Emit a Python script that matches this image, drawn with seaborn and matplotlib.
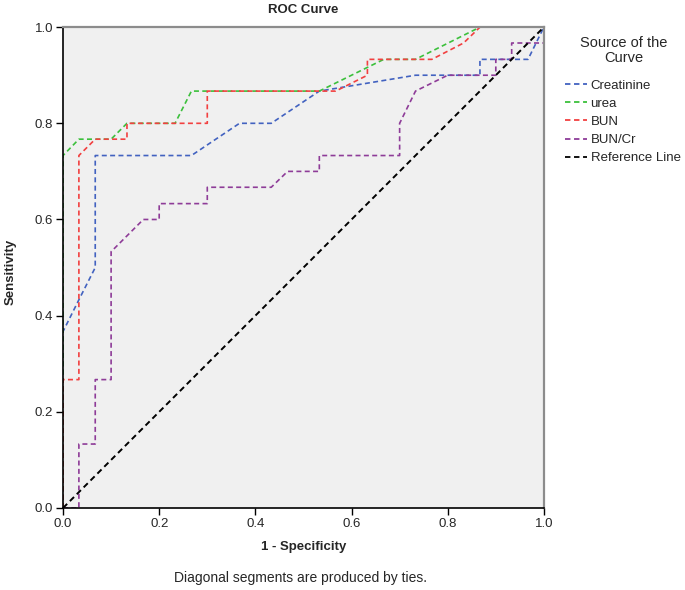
import numpy as np
import pandas as pd
import matplotlib
matplotlib.use("Agg")
import matplotlib.pyplot as plt
from matplotlib.lines import Line2D
import seaborn as sns

# ROC curve coordinates (1 - specificity, sensitivity)
creat_x = [0.0, 0.0, 0.033, 0.067, 0.067, 0.267, 0.367, 0.433, 0.533, 0.733, 0.867, 0.867, 0.967, 1.0]
creat_y = [0.0, 0.367, 0.433, 0.5, 0.733, 0.733, 0.8, 0.8, 0.867, 0.9, 0.9, 0.933, 0.933, 1.0]

urea_x = [0.0, 0.0, 0.033, 0.1, 0.133, 0.233, 0.267, 0.533, 0.667, 0.733, 0.867, 1.0]
urea_y = [0.0, 0.733, 0.767, 0.767, 0.8, 0.8, 0.867, 0.867, 0.933, 0.933, 1.0, 1.0]

bun_x = [0.0, 0.0, 0.033, 0.033, 0.067, 0.133, 0.133, 0.3, 0.3, 0.567, 0.633, 0.633, 0.767, 0.833, 0.867, 1.0]
bun_y = [0.0, 0.267, 0.267, 0.733, 0.767, 0.767, 0.8, 0.8, 0.867, 0.867, 0.9, 0.933, 0.933, 0.967, 1.0, 1.0]

ratio_x = [0.0, 0.033, 0.033, 0.067, 0.067, 0.1, 0.1, 0.167, 0.2, 0.2, 0.3, 0.3, 0.433, 0.467,
           0.533, 0.533, 0.7, 0.7, 0.733, 0.8, 0.9, 0.9, 0.933, 0.933, 1.0, 1.0]
ratio_y = [0.0, 0.0, 0.133, 0.133, 0.267, 0.267, 0.533, 0.6, 0.6, 0.633, 0.633, 0.667, 0.667, 0.7,
           0.7, 0.733, 0.733, 0.8, 0.867, 0.9, 0.9, 0.933, 0.933, 0.967, 0.967, 1.0]

ref_x = [0.0, 1.0]
ref_y = [0.0, 1.0]

series = [
    ("Creatinine", creat_x, creat_y, "#4262c0"),
    ("urea", urea_x, urea_y, "#3cc03c"),
    ("BUN", bun_x, bun_y, "#f24040"),
    ("BUN/Cr", ratio_x, ratio_y, "#8e3c98"),
    ("Reference Line", ref_x, ref_y, "#000000"),
]

sns.set_style("white")
plt.rcParams["font.family"] = ["Liberation Sans", "DejaVu Sans"]

fig = plt.figure(figsize=(6.85, 5.9), dpi=100)
ax = fig.add_axes([0.092, 0.139, 0.702, 0.815])
ax.set_facecolor("#f0f0f0")

handles = []
for name, xs, ys, col in series:
    df = pd.DataFrame({"x": xs, "y": ys})
    lw = 1.4 if name == "Reference Line" else 1.2
    sns.lineplot(data=df, x="x", y="y", ax=ax, sort=False, estimator=None,
                 color=col, linewidth=lw, linestyle=(0, (3, 2)))
    handles.append(Line2D([0], [0], color=col, linewidth=1.3, linestyle=(0, (3, 2)), label=name))

ax.set_xlim(0, 1)
ax.set_ylim(0, 1)
ticks = np.arange(0, 1.01, 0.2)
ax.set_xticks(ticks)
ax.set_yticks(ticks)
ax.set_xticklabels([f"{t:.1f}" for t in ticks], fontsize=9.5)
ax.set_yticklabels([f"{t:.1f}" for t in ticks], fontsize=9.5)
ax.tick_params(axis="both", direction="out", length=5, width=1, color="black", pad=2,
               bottom=True, left=True)
for side in ["left", "bottom"]:
    ax.spines[side].set_color("black")
    ax.spines[side].set_linewidth(1.2)
for side in ["top", "right"]:
    ax.spines[side].set_color("#8c8c8c")
    ax.spines[side].set_linewidth(1.6)

ax.set_xlabel("")
ax.set_ylabel("")
fig.text(0.443, 0.983, "ROC Curve", ha="center", va="center", fontsize=9.5, fontweight="bold")
fig.text(0.016, 0.54, "Sensitivity", ha="center", va="center", rotation=90,
         fontsize=9.5, fontweight="bold")
fig.text(0.443, 0.073, "1 - Specificity", ha="center", va="center", fontsize=9.5, fontweight="bold")
fig.text(0.438, 0.02, "Diagonal segments are produced by ties.", ha="center", va="center",
         fontsize=10)

# legend title drawn separately so the gap to the entries matches
fig.text(0.910, 0.915, "Source of the\nCurve", ha="center", va="center",
         multialignment="center", fontsize=10.5, linespacing=1.1)
leg = fig.legend(handles=handles, loc="upper left",
                 bbox_to_anchor=(0.812, 0.881), frameon=False, fontsize=9.5,
                 handlelength=1.6, handletextpad=0.3, labelspacing=0.45,
                 borderpad=0.2)

fig.savefig("out.png", dpi=100)
